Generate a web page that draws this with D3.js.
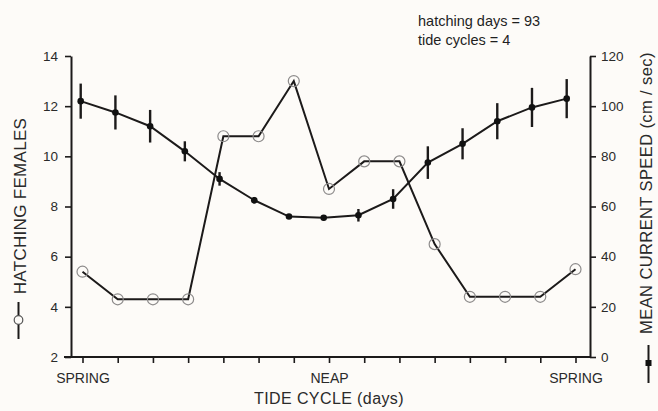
<!DOCTYPE html>
<html>
<head>
<meta charset="utf-8">
<script src="https://cdn.jsdelivr.net/npm/d3@7"></script>
<style>
  html, body { margin: 0; padding: 0; background: #fdfbf8; }
  svg { display: block; font-family: "Liberation Sans", Arial, Helvetica, sans-serif; }
</style>
</head>
<body>
<svg id="chart" width="658" height="411"></svg>
<script>
// Days across one spring-neap-spring tide cycle
const days = ["d1","d2","d3","d4","d5","d6","d7","d8","d9","d10","d11","d12","d13","d14","d15"];
const dayLabels = ["SPRING","","","","","","","NEAP","","","","","","","SPRING"];

// Hatching females per day (left axis)
const hatching = [5.4, 4.3, 4.3, 4.3, 10.8, 10.8, 13.0, 8.7, 9.8, 9.8, 6.5, 4.4, 4.4, 4.4, 5.5];

// Mean current speed, cm/sec (right axis), with error-bar half widths
const speed    = [102, 97.5, 92, 82, 71, 62.5, 56, 55.5, 56.5, 63, 77.5, 85, 94, 99.5, 103];
const speedErr = [7, 6.8, 6.5, 4, 2.7, 1.3, 0.8, 1, 2.5, 3.9, 6.5, 6.2, 7.2, 7.8, 7.8];

const leftTicks  = [2, 4, 6, 8, 10, 12, 14];
const rightTicks = [0, 20, 40, 60, 80, 100, 120];

const notes = ["hatching days = 93", "tide cycles = 4"];

const svg = d3.select("#chart");
const ink = "#1c1a1a";
const xLeft = 71, xRight = 590, yBottom = 357, yTop = 56;

const x = d3.scalePoint().domain(days).range([82.5, 575.5]);
const xSpeed = d3.scalePoint().domain(days).range([80.7, 566.7]);
const yL = d3.scaleLinear().domain([2, 14]).range([yBottom, yTop]);
const yR = d3.scaleLinear().domain([0, 120]).range([yBottom, yTop]);

// Axes
const leftAxis = d3.axisLeft(yL).tickValues(leftTicks).tickSize(6).tickPadding(7).tickSizeOuter(0);
const rightAxis = d3.axisRight(yR).tickValues(rightTicks).tickSize(6).tickPadding(5).tickSizeOuter(0);
const bottomAxis = d3.axisBottom(x).tickFormat((d, i) => dayLabels[i]).tickSize(6).tickPadding(7).tickSizeOuter(0);

function styleAxis(g, size) {
  g.select(".domain").attr("stroke", ink).attr("stroke-width", 2);
  g.selectAll(".tick line").attr("stroke", ink).attr("stroke-width", 1.6);
  g.selectAll(".tick text").attr("fill", "#2a2a2a").style("font-size", size + "px")
    .style("font-family", "'Liberation Sans', Arial, sans-serif");
}

const gb = svg.append("g").attr("transform", `translate(0,${yBottom})`).call(bottomAxis);
gb.select(".domain").attr("d", `M${xLeft - 7},0H${xRight}`);
styleAxis(gb, 14);
gb.selectAll(".tick text").attr("dy", "0.9em");

const gl = svg.append("g").attr("transform", `translate(${xLeft},0)`).call(leftAxis);
styleAxis(gl, 13.5);

const gr = svg.append("g").attr("transform", `translate(${xRight},0)`).call(rightAxis);
styleAxis(gr, 13.5);

// Hatching females: line with open circles
svg.append("path")
  .datum(hatching)
  .attr("fill", "none").attr("stroke", ink).attr("stroke-width", 2)
  .attr("d", d3.line().x((d, i) => x(days[i])).y(d => yL(d)));

svg.append("g").selectAll("circle")
  .data(hatching).join("circle")
  .attr("cx", (d, i) => x(days[i])).attr("cy", d => yL(d)).attr("r", 5.5)
  .attr("fill", "none").attr("stroke", "#8d8b8b").attr("stroke-width", 1.2);

// Current speed: line, error bars, filled dots
svg.append("path")
  .datum(speed)
  .attr("fill", "none").attr("stroke", ink).attr("stroke-width", 2)
  .attr("d", d3.line().x((d, i) => xSpeed(days[i])).y(d => yR(d)));

svg.append("g").selectAll("line")
  .data(speed).join("line")
  .attr("x1", (d, i) => xSpeed(days[i])).attr("x2", (d, i) => xSpeed(days[i]))
  .attr("y1", (d, i) => yR(d - speedErr[i])).attr("y2", (d, i) => yR(d + speedErr[i]))
  .attr("stroke", ink).attr("stroke-width", 2.4);

svg.append("g").selectAll("circle")
  .data(speed).join("circle")
  .attr("cx", (d, i) => xSpeed(days[i])).attr("cy", d => yR(d)).attr("r", 3.3)
  .attr("fill", "#111");

// Axis titles
svg.append("text")
  .attr("x", 329).attr("y", 404).attr("text-anchor", "middle")
  .attr("fill", "#2a2a2a").style("font-size", "16px").style("letter-spacing", "0.4px")
  .text("TIDE CYCLE (days)");

svg.append("text")
  .attr("transform", "translate(26,206) rotate(-90)").attr("text-anchor", "middle")
  .attr("fill", "#2a2a2a").style("font-size", "17px").style("letter-spacing", "0.3px")
  .text("HATCHING FEMALES");

svg.append("text")
  .attr("transform", "translate(652,193) rotate(-90)").attr("text-anchor", "middle")
  .attr("fill", "#2a2a2a").style("font-size", "16.5px").style("letter-spacing", "0.4px")
  .text("MEAN CURRENT SPEED (cm / sec)");

// Series keys beneath the rotated titles
svg.append("line").attr("x1", 18.5).attr("x2", 18.5).attr("y1", 302).attr("y2", 339)
  .attr("stroke", ink).attr("stroke-width", 2);
svg.append("circle").attr("cx", 18.5).attr("cy", 320).attr("r", 4.3)
  .attr("fill", "#fdfbf8").attr("stroke", "#555").attr("stroke-width", 1.2);

svg.append("line").attr("x1", 648.5).attr("x2", 648.5).attr("y1", 345).attr("y2", 383)
  .attr("stroke", ink).attr("stroke-width", 2);
svg.append("rect").attr("x", 645.5).attr("y", 360).attr("width", 6).attr("height", 6)
  .attr("fill", "#111");

// Study notes
svg.append("g").selectAll("text")
  .data(notes).join("text")
  .attr("x", 418).attr("y", (d, i) => 26 + i * 19)
  .attr("fill", "#1f1f1f").style("font-size", "14.5px")
  .text(d => d);
</script>
</body>
</html>
